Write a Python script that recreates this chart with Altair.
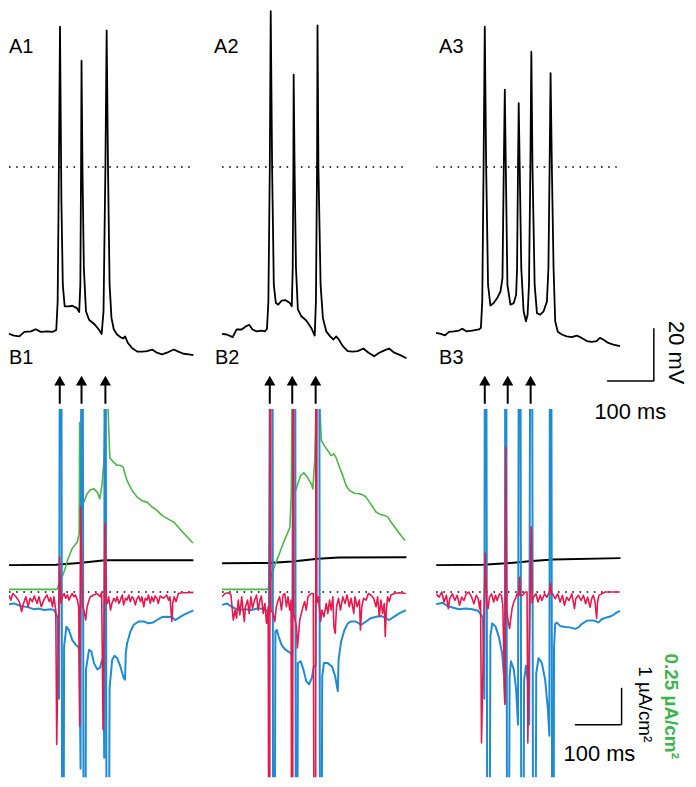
import altair as alt
import pandas as pd

# ---------------- data (time in ms, membrane potential in mV, currents in uA/cm2) ----------------
A1_T = [0, 11, 22, 33, 47, 57, 68, 82, 93, 101, 104, 106, 109, 112, 115, 119, 128, 135.5, 145, 150,
        152.5, 154, 155, 157, 160, 164.5, 171, 182, 192, 198, 202, 206, 208.7, 211.6, 215, 219, 224, 231, 238, 244,
        248, 254, 263, 274, 285, 295, 306, 316, 327, 337.5, 352, 362, 373, 384, 394]
A1_V = [-63.3, -63.9, -64.2, -62.5, -62.3, -61.5, -62.5, -62.3, -62.5, -61.8, -51, -13, 53.2, -13, -44.7, -52.8, -52.8, -52.6, -53.5, -55,
        -44.7, -0.6, 40.3, -0.6, -38.4, -54.7, -57.9, -59.5, -61.6, -63.3, -54.7, -0.6, 51.8, -0.6, -44.7, -57.2, -61.6, -63.5, -64.5, -65,
        -64.2, -66.7, -68.6, -70, -70, -69.8, -69.2, -70.4, -71, -70.4, -69.2, -70, -70.8, -71, -71.3]

A2_T = [0, 10, 22.7, 31, 42, 51, 58, 65, 74, 84, 91.5, 96, 99, 102, 104, 107, 110.6, 115, 120, 127,
        136, 145, 149, 151, 152.4, 153, 155, 158, 162, 169.5, 180, 190.7, 198, 200.6, 203, 204, 206, 210.6, 215.5, 222.6,
        231, 238, 244, 249.6, 258, 268.7, 279, 290, 302, 313, 325, 336, 347, 357, 368, 382, 394]
A2_V = [-63.3, -63.5, -64.5, -61.6, -61.6, -60.4, -59.8, -61.6, -62.3, -62, -62.3, -61.3, -51, -0.6, 59.1, -0.6, -44.7, -51.6, -52.2, -50.7,
        -50.5, -51.6, -52.8, -38.4, -0.6, 35, -0.6, -38.4, -54, -56.6, -58.2, -61, -63.9, -51, -0.6, 53.7, -0.6, -44.7, -57.2, -62.3,
        -64.2, -65.4, -64.2, -65.4, -67.9, -69.8, -70, -69.8, -68.8, -70.4, -71.7, -70.4, -69.5, -68.8, -70.4, -71.4, -72.5]

A3_T = [0, 10, 19, 27.6, 38, 49, 56, 64.5, 77, 91.5, 95.7, 98.6, 101.4, 104, 107, 111, 116, 123, 130.5, 137.5,
        141.8, 144.6, 146.8, 149, 152.4, 158.8, 166, 171, 173, 175, 176.5, 178.7, 182, 187, 192, 195.5, 198.5, 201.4, 203.5, 206,
        210.6, 215.5, 222.6, 229.7, 236.8, 240, 242.5, 244.6, 247.4, 251, 254.5, 260, 268.7, 279, 290, 300.6, 311, 322, 332.5, 343,
        350, 357, 368, 378.6, 393]
A3_V = [-62.9, -63.3, -63.8, -62.5, -62.3, -62, -61.3, -62.3, -62, -61.6, -61, -51, -0.6, 53.2, -0.6, -44.7, -52.5, -51.6, -49.7, -47.2,
        -42.1, -0.6, 29.3, -0.6, -44.7, -52.2, -51.6, -48.4, -38.4, -0.6, 24.2, -0.6, -38.4, -54.7, -58.5, -56, -44.7, -0.6, 43.7, -0.6,
        -44.7, -55.4, -56, -54.7, -51, -38.4, -0.6, 35.6, -0.6, -38.4, -58.5, -62.5, -63.5, -64.2, -64.5, -63.9, -64.8, -66, -66.3, -66,
        -64.8, -65.4, -66.7, -67.3, -67.9]

B1_BLUE_T = [0, 11, 25, 40, 54, 64, 75, 89, 96, 100, 104, 107, 110.6, 115, 117.7, 122.7, 128, 135, 142.5, 147.5,
             150.3, 153, 156, 161, 164.5, 171, 176, 181.5, 188.6, 194.3, 199, 202, 203.5, 205, 210, 215, 220.5, 225.5, 231, 238,
             245, 248, 249.6, 252.4, 259.5, 266.6, 277, 288, 298.5, 307.7, 316, 327, 337.5, 348, 355, 362, 373, 383.6, 394]
B1_BLUE_I = [-0.33, -0.31, -0.38, -0.41, -0.47, -0.45, -0.49, -0.47, -0.49, -0.58, -0.7, -2.9, 20, -20, -1.48, -0.94, -1.03, -1.30, -1.43, -1.48,
             -1.6, -4.8, 20, -20, -2.1, -1.57, -1.61, -1.93, -2.1, -2.06, -1.84, -2.0, -4.5, 20, -20, -2.6, -1.84, -1.73, -1.79, -2.02,
             -2.33, -2.38, -1.66, -1.39, -1.07, -0.89, -0.80, -0.80, -0.85, -0.83, -0.76, -0.68, -0.67, -0.68, -0.76, -0.71, -0.62, -0.56, -0.50]
B1_RED_T = [0, 4, 8, 15, 22, 27, 31, 36, 41, 45, 50, 54, 60, 64, 69, 75, 81, 86, 89, 93,
            96, 100, 102, 108, 111, 114, 118, 121, 125, 128, 132, 135, 139, 142, 146, 149, 151, 153, 157, 160,
            164, 167, 171, 174, 181, 188, 195, 198, 201, 205, 208, 210, 213, 217, 220, 224, 228, 231, 235, 238,
            242, 245, 249, 252, 256, 259, 263, 266, 270, 273, 277, 281, 284, 288, 291, 295, 298, 302, 305, 309,
            312, 316, 319, 323, 330, 337, 341, 344, 348, 350, 353, 357, 362, 369, 380, 394]
B1_RED_I = [-0.08, -0.22, -0.04, -0.13, -0.26, -0.53, -0.31, -0.13, -0.40, -0.17, -0.26, -0.11, -0.31, -0.13, -0.40, -0.20, -0.08, -0.26, -0.15, -0.40,
            -0.13, -0.5, -4.14, 0.95, -0.3, -0.13, -0.04, -0.17, -0.08, -0.22, -0.11, -0.04, -0.13, -0.08, -0.22, -0.4, -3.64, 2.3, -0.4, -0.49,
            -0.76, -0.40, -0.22, -0.13, -0.08, -0.04, -0.13, 0.0, -3.73, 1.86, -0.3, -0.31, -0.13, -0.49, -0.31, -0.17, -0.26, -0.13, -0.31, -0.22,
            -0.08, -0.35, -0.17, -0.22, -0.08, -0.26, -0.13, -0.17, -0.35, -0.20, -0.11, -0.26, -0.13, -0.40, -0.17, -0.22, -0.08, -0.31, -0.13, -0.26,
            -0.11, -0.17, -0.31, -0.11, -0.17, -0.08, -0.22, -0.13, -0.80, -0.31, -0.13, -0.26, -0.04, -0.02, -0.02, -0.01]
B1_GREEN_T = [0, 100, 103, 106, 110, 117, 121, 125, 135, 146, 150, 151, 152, 153, 160, 167, 174, 181.5, 188.6, 194,
              199, 203, 206, 211, 215.5, 224, 231, 238, 244, 252, 263, 274, 284, 295, 306, 316, 327, 337.5, 345, 352,
              362, 373, 384, 393]
B1_GREEN_I = [0.018, 0.018, 0.02, 0.05, 0.08, 0.13, 0.17, 0.216, 0.295, 0.34, 0.40, 1.15, 0.60, 0.577, 0.61, 0.667, 0.694, 0.70, 0.678, 0.633,
              0.734, 0.89, 1.3, 1.3, 0.91, 0.88, 0.86, 0.86, 0.847, 0.757, 0.689, 0.644, 0.62, 0.61, 0.577, 0.554, 0.52, 0.50, 0.486, 0.475,
              0.44, 0.40, 0.363, 0.333]
B1_BLACK_T = [0, 100, 150, 205, 394]
B1_BLACK_I = [0.73, 0.74, 0.79, 0.86, 0.865]

B2_BLUE_T = [0, 10, 20.6, 34.7, 49, 63, 77, 91.5, 97, 100, 107, 110, 114, 117, 121, 127, 134, 141, 146.8, 150,
             155.5, 158.5, 162, 168, 173.7, 180, 186, 192, 196, 200, 206.5, 210.5, 214, 217.7, 226, 234.7, 241.8, 246, 247.4, 249,
             254.5, 261.6, 268.7, 275.8, 286, 297, 307.7, 318, 329, 339.6, 350, 357, 368, 378.6, 392.8]
B2_BLUE_I = [-0.35, -0.31, -0.40, -0.49, -0.47, -0.49, -0.44, -0.47, -0.53, -0.6, 20, -20, -1.07, -1.03, -1.21, -1.43, -1.55, -1.61, -1.66, -1.75,
             20, -20, -1.93, -1.88, -2.1, -2.42, -2.51, -2.33, -2.02, -2.0, 20, -20, -2.3, -1.93, -1.93, -2.02, -2.29, -2.6, -2.69, -1.84,
             -1.34, -1.03, -0.85, -0.80, -0.80, -0.89, -0.80, -0.71, -0.67, -0.65, -0.71, -0.76, -0.67, -0.58, -0.49]
B2_RED_T = [0, 6.4, 13.5, 19, 24, 27.7, 31, 34.7, 38, 42, 47.5, 50, 54.6, 58, 61.7, 65, 68.8, 73.7, 77, 81,
            84, 88, 91.5, 95, 98.6, 101.5, 103, 104.5, 109, 112.7, 116, 120, 123, 127, 130.5, 134, 137.5, 141, 144.6, 147.5,
            150.5, 152, 153.5, 159, 161, 163.8, 166, 169.5, 173, 176.5, 180, 183.6, 187, 190.7, 195, 199.5, 201, 202.5, 206, 210.6,
            213.4, 217.7, 222.6, 226, 229.7, 233, 236.8, 239, 241.8, 244.6, 248.9, 253, 258, 263, 267, 272, 275.8, 281.5, 284, 288.6,
            293.5, 295.7, 298.5, 302.7, 307.7, 312.7, 318, 324, 329, 332.5, 336, 339.6, 343, 346.7, 348.8, 351, 353.8, 357.3, 361, 368,
            378.6, 392.8]
B2_RED_I = [-0.13, -0.04, -0.02, -0.08, -0.76, -0.49, -0.71, -0.22, -0.62, -0.13, -0.80, -0.40, -0.22, -0.58, -0.13, -0.44, -0.26, -0.08, -0.49, -0.22,
            -0.11, -0.58, -0.31, -0.85, -0.40, -20, 20, -0.5, -0.58, -0.80, -0.40, -0.22, -0.13, -0.49, -0.08, -0.04, -0.40, -0.13, -0.49, -0.22,
            -20, 20, -0.6, -0.94, -1.52, -1.12, -0.76, -0.58, -0.40, -0.26, -0.49, -0.13, -0.08, -0.04, -0.04, -20, 20, -0.3, -0.13, -0.80,
            -0.49, -0.67, -0.31, -0.58, -0.22, -0.49, -0.13, -0.94, -1.12, -0.40, -0.17, -0.49, -0.13, -0.31, -0.08, -0.40, -0.17, -0.58, -0.13, -0.40,
            -0.22, -1.03, -0.40, -0.17, -0.22, -0.04, -0.08, -0.17, -0.40, -0.13, -0.67, -0.22, -0.58, -0.31, -1.21, -0.49, -0.13, -0.26, -0.08, -0.04,
            -0.02, -0.04]
B2_GREEN_T = [0, 98.6, 100, 109, 120, 130.5, 141, 145, 148, 149.5, 151, 152.5, 157.4, 162, 168, 175, 182, 190.7, 194, 198,
              201, 208.5, 212, 219, 226, 233, 239, 244, 251, 258, 265, 272, 283, 293.5, 300.6, 307.7, 315, 322, 329, 336,
              346.7, 353.8, 361, 371.5, 382, 391]
B2_GREEN_I = [0.018, 0.018, 0.047, 0.149, 0.239, 0.329, 0.408, 0.44, 0.667, 1.3, 1.3, 0.69, 0.69, 0.734, 0.79, 0.81, 0.78, 0.734, 0.70, 0.89,
              1.3, 1.3, 1.03, 0.99, 0.96, 0.926, 0.937, 0.91, 0.847, 0.79, 0.723, 0.69, 0.67, 0.667, 0.66, 0.644, 0.61, 0.577, 0.543, 0.53,
              0.52, 0.51, 0.475, 0.43, 0.385, 0.35]
B2_BLACK_T = [0, 100, 150, 205, 250, 394]
B2_BLACK_I = [0.78, 0.79, 0.83, 0.90, 0.935, 0.945]

B3_BLUE_T = [0, 13.5, 24, 34.7, 49, 63, 77, 90, 93, 100, 103, 105.6, 111, 116, 120, 127, 134, 141, 145, 147,
             148.5, 153, 157, 160, 166, 171, 175, 178.7, 183.6, 188, 192, 196, 199, 203.5, 209, 214, 219, 226, 233, 239,
             242, 244.6, 249.6, 252, 254.5, 258, 265, 276, 286, 297, 304, 311, 322, 332.5, 339.6, 346.7, 353.8, 364.4, 375, 385.7,
             392.8]
B3_BLUE_I = [-0.33, -0.29, -0.38, -0.42, -0.47, -0.45, -0.47, -0.51, -0.56, -0.7, -2.9, 20, -20, -1.2, -0.85, -0.94, -1.21, -1.66, -2.29, -3.0,
             20, -20, -2.3, -1.88, -2.1, -2.65, -3.6, 20, -20, -2.4, -2.0, -2.4, -3.6, 20, -20, -2.2, -1.79, -1.93, -2.38, -3.2,
             -3.9, 20, -20, -1.5, -0.87, -0.83, -0.92, -0.95, -0.96, -1.0, -0.96, -0.87, -0.78, -0.77, -0.78, -0.83, -0.74, -0.69, -0.65, -0.56,
             -0.51]
B3_RED_T = [0, 6.4, 12, 17, 22, 26, 29, 34.7, 40, 45, 50, 54.6, 59.5, 64.5, 70, 76, 80.8, 86, 90, 93,
            95, 97, 105, 108, 111, 114, 118.4, 123, 127, 130.5, 135.5, 139.6, 142.5, 147, 149, 151, 154, 157, 159.5, 162.4,
            166, 169.5, 173, 176.5, 178.5, 180, 185, 190.7, 194.3, 196, 203, 205, 208, 213.4, 217.7, 222.6, 226, 231.8, 236.8, 241.8,
            244.5, 246, 249, 254.5, 260, 265, 270, 274.3, 279, 284, 290, 295.7, 298.5, 304, 309.7, 314.7, 319.6, 323.8, 329, 332.5,
            336, 339.6, 343, 345, 348, 353.8, 361, 371.5, 382, 392.8]
B3_RED_I = [-0.05, -0.14, 0, -0.27, -0.09, -0.45, -0.18, -0.05, -0.23, -0.09, -0.36, -0.14, -0.23, -0.05, 0, -0.14, -0.32, -0.09, -0.18, -0.45,
            -0.23, -4.1, 1.05, -0.3, -0.45, -0.14, -0.05, -0.27, -0.09, -0.23, -0.05, -0.09, -0.36, -3.05, 3.93, -0.5, -0.81, -0.99, -0.72, -0.45,
            -0.27, -0.18, -0.05, -0.09, 0.4, -0.1, -0.09, 0, 0, -4.1, 1.77, -0.3, -0.14, -0.05, -0.27, -0.09, -0.23, -0.05, -0.14, 0,
            0.23, -0.05, -0.05, -0.18, -0.05, -0.27, -0.09, -0.36, -0.14, -0.23, -0.05, -0.45, -0.18, -0.09, -0.23, -0.09, -0.32, -0.14, -0.41, -0.18,
            -0.09, -0.27, -0.72, -0.27, -0.09, -0.05, 0, 0, 0, 0]
B3_BLACK_T = [0, 100, 150, 205, 250, 394]
B3_BLACK_I = [0.73, 0.74, 0.78, 0.84, 0.88, 0.92]

STIM_B1 = [108.5, 155, 206]
STIM_B2 = [102, 150, 200]
STIM_B3 = [104, 153, 202]

DOT_END_A = [391, 389, 386]
DOT_END_B = [390, 389, 390]
A_LABELS = ["A1", "A2", "A3"]
B_LABELS = ["B1", "B2", "B3"]

# ---------------- layout / style ----------------
PX_PER_MS = 0.47
COL_W = [214, 215, 251]
A_H, B_H, ROW_GAP = 352, 370, 48
A_DOM = [-73.6, 59.25]
B_DOM = [-5.03, 4.97]
G_DOM = [-1.2575, 1.2425]
LABEL_X = [0, -17, 6.4]
BLABEL_X = [0, -15, 6.4]
ARROW_Y = (5.11, 5.62, 5.74)
BLUE, RED, GREEN, GREEN_TXT = "#1f8bd3", "#e6194e", "#4db547", "#3cb54a"
FONT = "Liberation Sans"


def xs(k):
    return alt.Scale(domain=[0, COL_W[k] / PX_PER_MS], nice=False, zero=False)


def ys(dom):
    return alt.Scale(domain=dom, nice=False, zero=False)


def line(t, v, k, dom, color, width, clip=False):
    df = pd.DataFrame({"t": t, "v": v, "i": list(range(len(t)))})
    return alt.Chart(df).mark_line(color=color, strokeWidth=width, clip=clip, strokeJoin="round").encode(
        x=alt.X("t:Q", scale=xs(k), axis=None),
        y=alt.Y("v:Q", scale=ys(dom), axis=None),
        order=alt.Order("i:Q"),
    )


def hrule(x1, x2, y, k, dom, dash=None, width=1.5, color="black"):
    df = pd.DataFrame({"x": [x1], "x2": [x2], "y": [y]})
    mk = dict(color=color, strokeWidth=width)
    if dash:
        mk["strokeDash"] = dash
    return alt.Chart(df).mark_rule(**mk).encode(
        x=alt.X("x:Q", scale=xs(k), axis=None), x2="x2:Q",
        y=alt.Y("y:Q", scale=ys(dom), axis=None))


def vrule(x, y1, y2, k, dom, width=1.5, color="black"):
    df = pd.DataFrame({"x": [x], "y": [y1], "y2": [y2]})
    return alt.Chart(df).mark_rule(color=color, strokeWidth=width).encode(
        x=alt.X("x:Q", scale=xs(k), axis=None),
        y=alt.Y("y:Q", scale=ys(dom), axis=None), y2="y2:Q")


def label(txt, x, y, k, dom, size, align="left", baseline="alphabetic", angle=0,
          color="black", weight="normal"):
    df = pd.DataFrame({"x": [x], "y": [y], "s": [txt]})
    return alt.Chart(df).mark_text(font=FONT, fontSize=size, align=align, baseline=baseline,
                                   angle=angle, color=color, fontWeight=weight).encode(
        x=alt.X("x:Q", scale=xs(k), axis=None),
        y=alt.Y("y:Q", scale=ys(dom), axis=None),
        text="s:N")


def arrows(ts, k):
    n = len(ts)
    df = pd.DataFrame({"t": ts, "y0": [ARROW_Y[0]] * n, "y1": [ARROW_Y[1]] * n, "yh": [ARROW_Y[2]] * n})
    shafts = alt.Chart(df).mark_rule(color="black", strokeWidth=2).encode(
        x=alt.X("t:Q", scale=xs(k), axis=None),
        y=alt.Y("y0:Q", scale=ys(B_DOM), axis=None), y2="y1:Q")
    heads = alt.Chart(df).mark_point(shape="triangle-up", filled=True, size=125, color="black",
                                     opacity=1, strokeWidth=0).encode(
        x=alt.X("t:Q", scale=xs(k), axis=None),
        y=alt.Y("yh:Q", scale=ys(B_DOM), axis=None))
    return [shafts, heads]


A_TRACES = [(A1_T, A1_V), (A2_T, A2_V), (A3_T, A3_V)]
B_DATA = [
    dict(blue=(B1_BLUE_T, B1_BLUE_I), red=(B1_RED_T, B1_RED_I), green=(B1_GREEN_T, B1_GREEN_I),
         black=(B1_BLACK_T, B1_BLACK_I), stim=STIM_B1),
    dict(blue=(B2_BLUE_T, B2_BLUE_I), red=(B2_RED_T, B2_RED_I), green=(B2_GREEN_T, B2_GREEN_I),
         black=(B2_BLACK_T, B2_BLACK_I), stim=STIM_B2),
    dict(blue=(B3_BLUE_T, B3_BLUE_I), red=(B3_RED_T, B3_RED_I), green=None,
         black=(B3_BLACK_T, B3_BLACK_I), stim=STIM_B3),
]

a_panels, b_panels = [], []
for k in range(3):
    a_layers = [
        hrule(0, DOT_END_A[k], 0, k, A_DOM, dash=[1.6, 5.6], width=1.6),
        line(A_TRACES[k][0], A_TRACES[k][1], k, A_DOM, "black", 1.8),
        label(A_LABELS[k], LABEL_X[k], 43.4, k, A_DOM, 20),
    ]
    if k == 2:
        a_layers += [
            vrule(465.3, -61.1, -81.1, k, A_DOM),
            hrule(365.3, 465.3, -81.1, k, A_DOM),
            label("20 mV", 512.8, -70.4, k, A_DOM, 22, align="center", baseline="middle", angle=90),
            label("100 ms", 415, -95.5, k, A_DOM, 22, align="center"),
        ]
    a_panels.append(alt.layer(*a_layers).properties(width=COL_W[k], height=A_H))

    d = B_DATA[k]
    b_layers = [
        hrule(0, DOT_END_B[k], 0, k, B_DOM, dash=[1.6, 5.6], width=1.6),
        line(d["black"][0], d["black"][1], k, B_DOM, "black", 2, clip=True),
    ]
    if d["green"] is not None:
        b_layers.append(line(d["green"][0], d["green"][1], k, G_DOM, GREEN, 1.6, clip=True))
    b_layers += [
        line(d["blue"][0], d["blue"][1], k, B_DOM, BLUE, 2, clip=True),
        line(d["red"][0], d["red"][1], k, B_DOM, RED, 1.6, clip=True),
    ]
    b_layers += arrows(d["stim"], k)
    b_layers.append(label(B_LABELS[k], BLABEL_X[k], 6.19, k, B_DOM, 20))
    if k == 2:
        b_layers += [
            vrule(396.4, -2.6, -3.6, k, B_DOM),
            hrule(296.4, 396.4, -3.6, k, B_DOM),
            label("100 ms", 349, -4.6, k, B_DOM, 22, align="center"),
            label("1 \u00b5A/cm\u00b2", 447, -3.05, k, B_DOM, 19, align="center", baseline="middle", angle=90),
            label("0.25 \u00b5A/cm\u00b2", 502, -3.1, k, B_DOM, 19, align="center", baseline="middle", angle=90,
                  color=GREEN_TXT, weight="bold"),
        ]
    b_panels.append(alt.layer(*b_layers).resolve_scale(y="independent").properties(width=COL_W[k], height=B_H))

chart = alt.concat(*(a_panels + b_panels), columns=3, spacing={"row": ROW_GAP, "column": 0},
                   bounds="flush").properties(padding=0).configure_view(stroke=None)

chart.save("out.html", embed_options={"renderer": "svg", "actions": False})
